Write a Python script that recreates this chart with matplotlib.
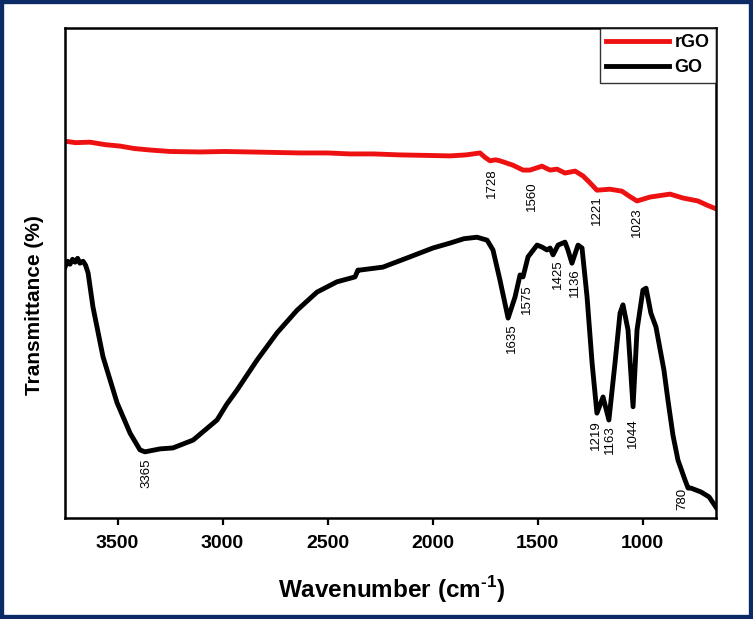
import matplotlib
matplotlib.use('Agg')
import matplotlib.pyplot as plt
from matplotlib.patches import Rectangle

plt.rcParams['font.family'] = ['Liberation Sans', 'DejaVu Sans']
plt.rcParams['mathtext.fontset'] = 'custom'
plt.rcParams['mathtext.rm'] = 'Liberation Sans:bold'
plt.rcParams['mathtext.bf'] = 'Liberation Sans:bold'

# rGO spectrum (wavenumber, transmittance, arbitrary scale)
rgo_w = [3750, 3700, 3631, 3560, 3488, 3420, 3345, 3250, 3107, 2990, 2869, 2750, 2631, 2500,
         2393, 2280, 2155, 2030, 1917, 1840, 1774, 1750, 1726, 1700, 1679, 1617, 1569, 1536,
         1479, 1440, 1407, 1369, 1321, 1283, 1250, 1217, 1155, 1098, 1060, 1026, 964, 869,
         807, 736, 690, 650]
rgo_t = [76.9, 76.6, 76.7, 76.2, 75.9, 75.4, 75.1, 74.8, 74.7, 74.8, 74.7, 74.6, 74.5, 74.5,
         74.3, 74.3, 74.1, 74.0, 73.9, 74.1, 74.5, 73.6, 72.9, 73.1, 72.9, 72.0, 71.0, 71.0,
         71.8, 71.0, 71.2, 70.4, 70.8, 69.8, 68.4, 66.9, 67.1, 66.7, 65.6, 64.7, 65.5, 66.1,
         65.3, 64.7, 63.8, 63.1]

# GO spectrum
go_w = [3750, 3738, 3726, 3714, 3702, 3690, 3679, 3664, 3652, 3640, 3617, 3569, 3502, 3440,
        3393, 3369, 3298, 3236, 3140, 3026, 2980, 2931, 2836, 2740, 2645, 2550, 2455, 2369,
        2355, 2345, 2236, 2107, 1998, 1917, 1850, 1788, 1740, 1712, 1679, 1640, 1607, 1583,
        1569, 1545, 1502, 1479, 1455, 1440, 1426, 1402, 1369, 1355, 1336, 1307, 1288, 1264,
        1240, 1217, 1188, 1160, 1131, 1107, 1093, 1069, 1045, 1026, 998, 983, 960, 936, 898,
        879, 855, 831, 798, 783, 769, 721, 683, 650]
go_t = [51.2, 52.4, 51.8, 52.8, 52.2, 53.0, 52.0, 52.4, 51.6, 50.0, 43.1, 32.9, 23.5, 17.3,
        13.9, 13.5, 14.1, 14.3, 15.9, 20.0, 23.2, 26.1, 32.2, 37.8, 42.4, 46.1, 48.2, 49.2,
        50.6, 50.6, 51.2, 53.3, 55.1, 56.1, 57.0, 57.3, 56.7, 54.7, 48.6, 40.8, 45.1, 49.6,
        49.2, 53.3, 55.7, 55.3, 54.7, 55.1, 53.7, 55.7, 56.3, 54.7, 52.0, 55.7, 55.1, 45.1,
        31.6, 21.4, 24.7, 20.0, 31.6, 41.8, 43.5, 38.4, 22.7, 38.4, 46.5, 46.9, 41.8, 39.0,
        30.2, 24.1, 16.9, 11.8, 7.8, 6.1, 6.1, 5.3, 4.3, 2.2]

# peak annotations: text, x, y (top of the label)
rgo_peaks = ['1728', '1560', '1221', '1023']
rgo_peak_w = [1717, 1526, 1217, 1026]
rgo_peak_t = [71.4, 68.6, 65.9, 63.3]
go_peaks = ['3365', '1635', '1575', '1425', '1136', '1219', '1163', '1044', '780']
go_peak_w = [3364, 1621, 1550, 1402, 1321, 1222, 1155, 1045, 812]
go_peak_t = [12.2, 39.8, 47.6, 52.7, 51.0, 20.0, 19.0, 20.4, 6.1]

fig = plt.figure(figsize=(7.53, 6.19), dpi=100)
ax = fig.add_axes([65/753, 1-518/619, 651/753, 490/619])

ax.plot(rgo_w, rgo_t, color='#ee1111', lw=3.5, label='rGO')
ax.plot(go_w, go_t, color='black', lw=3.5, label='GO')

for s, w, t in zip(rgo_peaks + go_peaks, rgo_peak_w + go_peak_w, rgo_peak_t + go_peak_t):
    ax.text(w, t, s, rotation=90, ha='center', va='top', fontsize=9.5)

ax.set_xlim(3750, 650)
ax.set_ylim(0, 100)
ax.set_xticks([3500, 3000, 2500, 2000, 1500, 1000])
ax.set_yticks([])
ax.tick_params(axis='x', direction='out', length=5, width=1.6, pad=7)
for lab in ax.get_xticklabels():
    lab.set_fontweight('bold')
    lab.set_fontsize(14)
for sp in ax.spines.values():
    sp.set_linewidth(1.8)

leg = ax.legend(loc='upper right', borderaxespad=0, fancybox=False, edgecolor='black',
                prop={'weight': 'bold', 'size': 13}, handlelength=3.5, labelspacing=0.45,
                handletextpad=0.3, borderpad=0.35)
leg.get_frame().set_linewidth(1.0)

fig.text(35/753, 1-305/619, 'Transmittance (%)', rotation=90, ha='center', va='center',
         fontsize=15, fontweight='bold')
fig.text(392/753, 1-590/619, r'Wavenumber (cm$^{\text{-1}}$)', ha='center', va='center',
         fontsize=17.5, fontweight='bold')

fig.patches.append(Rectangle((0, 0), 1, 1, transform=fig.transFigure, fill=False,
                             edgecolor='#0b2a66', linewidth=6))

fig.savefig('out.png', dpi=100)
